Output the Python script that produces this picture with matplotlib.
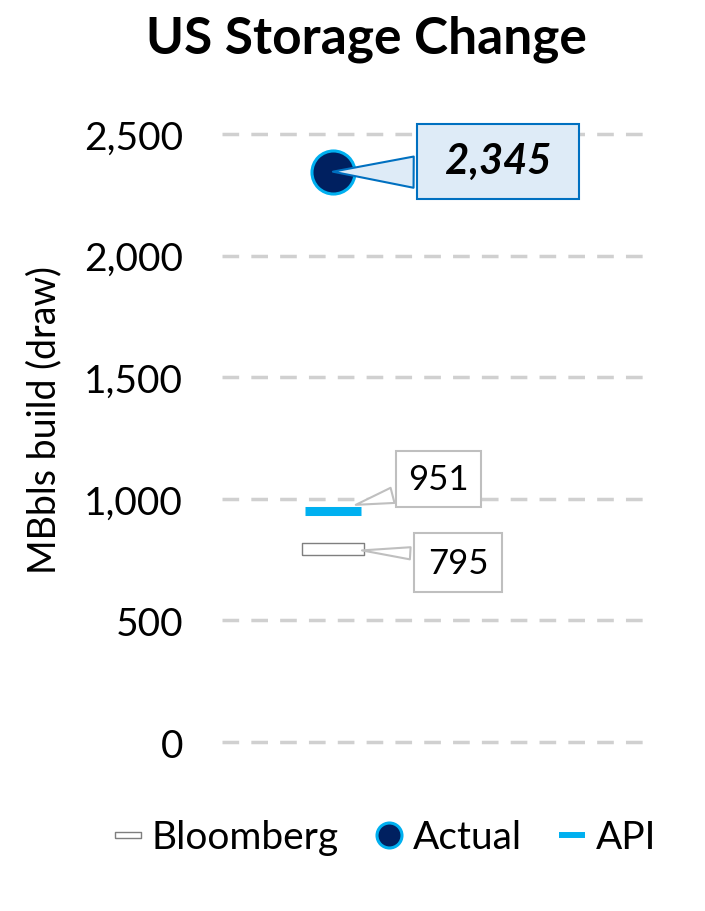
import matplotlib
matplotlib.use("Agg")
import matplotlib.pyplot as plt
from matplotlib.lines import Line2D
from matplotlib.ticker import FuncFormatter

plt.rcParams['font.family'] = ['Lato', 'DejaVu Sans']

# data
category = [0]
bloomberg = [795]
actual = [2345]
api = [951]
yticks = [0, 500, 1000, 1500, 2000, 2500]

# flat rectangle marker for the Bloomberg estimate
rect = [(-2.5, -0.5), (2.5, -0.5), (2.5, 0.5), (-2.5, 0.5), (-2.5, -0.5)]

fig = plt.figure(figsize=(7.05, 9.12), dpi=100)
ax = fig.add_axes([0.3149, 0.1773, 0.604, 0.6827])

ax.set_xlim(-0.5, 1.42)
ax.set_ylim(-30, 2530)
ax.set_yticks(yticks)
ax.yaxis.set_major_formatter(FuncFormatter(lambda v, p: f"{v:,.0f}"))
ax.set_xticks([])
for s in ax.spines.values():
    s.set_visible(False)
ax.tick_params(axis='y', length=0, pad=28, labelsize=28)
ax.grid(axis='y', color='#D0D0D0', linewidth=2.5, linestyle=(0, (4.8, 3.5)))
ax.set_axisbelow(True)

ax.plot(category, bloomberg, linestyle='none', marker=rect, markersize=44,
        markerfacecolor='white', markeredgecolor='#7F7F7F', markeredgewidth=1.0, zorder=3)
ax.plot(category, api, linestyle='none', marker='_', markersize=41,
        markeredgecolor='#00B0F0', markeredgewidth=6.5, zorder=3)
ax.plot(category, actual, linestyle='none', marker='o', markersize=31,
        markerfacecolor='#002060', markeredgecolor='#00B0F0', markeredgewidth=2.2, zorder=4)

# callouts (wedge points back to the mark)
ax.annotate(f" {actual[0]:,} ", xy=(category[0], actual[0]), xytext=(119, 7.5),
            textcoords='offset points', ha='center', va='center',
            fontsize=30, fontweight='bold', fontstyle='italic', color='black',
            bbox=dict(boxstyle='square,pad=0.45', fc='#DEEBF7', ec='#0070C0', lw=1.5),
            arrowprops=dict(arrowstyle='wedge,tail_width=0.75,shrink_factor=0.5',
                            fc='#DEEBF7', ec='#0070C0', lw=1.5, shrinkB=0, relpos=(0.5, 0.2)),
            zorder=5)
ax.annotate(f"{api[0]:,}", xy=(category[0], api[0]), xytext=(76, 23),
            textcoords='offset points', ha='center', va='center',
            fontsize=25, color='black',
            bbox=dict(boxstyle='square,pad=0.35', fc='white', ec='#BFBFBF', lw=1.5),
            arrowprops=dict(arrowstyle='wedge,tail_width=0.45,shrink_factor=0.5',
                            fc='white', ec='#BFBFBF', lw=1.5, shrinkB=17, relpos=(0.5, 0.35)),
            zorder=5)
ax.annotate(f"{bloomberg[0]:,}", xy=(category[0], bloomberg[0]), xytext=(90, -10),
            textcoords='offset points', ha='center', va='center',
            fontsize=25, color='black',
            bbox=dict(boxstyle='square,pad=0.4', fc='white', ec='#BFBFBF', lw=1.5),
            arrowprops=dict(arrowstyle='wedge,tail_width=0.35,shrink_factor=0.5',
                            fc='white', ec='#BFBFBF', lw=1.5, shrinkB=21, relpos=(0.5, 0.7)),
            zorder=5)

ax.set_ylabel("MBbls build (draw)", fontsize=27)
ax.yaxis.set_label_coords(-0.376, 0.53)
fig.suptitle("US Storage Change", fontsize=37, fontweight='bold', x=0.52, y=0.983)

handles = [
    Line2D([], [], linestyle='none', marker=rect, markersize=18.7, markerfacecolor='white',
           markeredgecolor='#7F7F7F', markeredgewidth=1.0),
    Line2D([], [], linestyle='none', marker='o', markersize=18, markerfacecolor='#002060',
           markeredgecolor='#00B0F0', markeredgewidth=2.2),
    Line2D([], [], linestyle='none', marker='_', markersize=18.7, markeredgecolor='#00B0F0',
           markeredgewidth=4.3),
]
fig.legend(handles, ["Bloomberg", "Actual", "API"], loc='center', bbox_to_anchor=(0.545, 0.081),
           ncol=3, frameon=False, fontsize=28, handlelength=0.8, handletextpad=0.2,
           columnspacing=0.9)

fig.savefig("out.png", dpi=100)
